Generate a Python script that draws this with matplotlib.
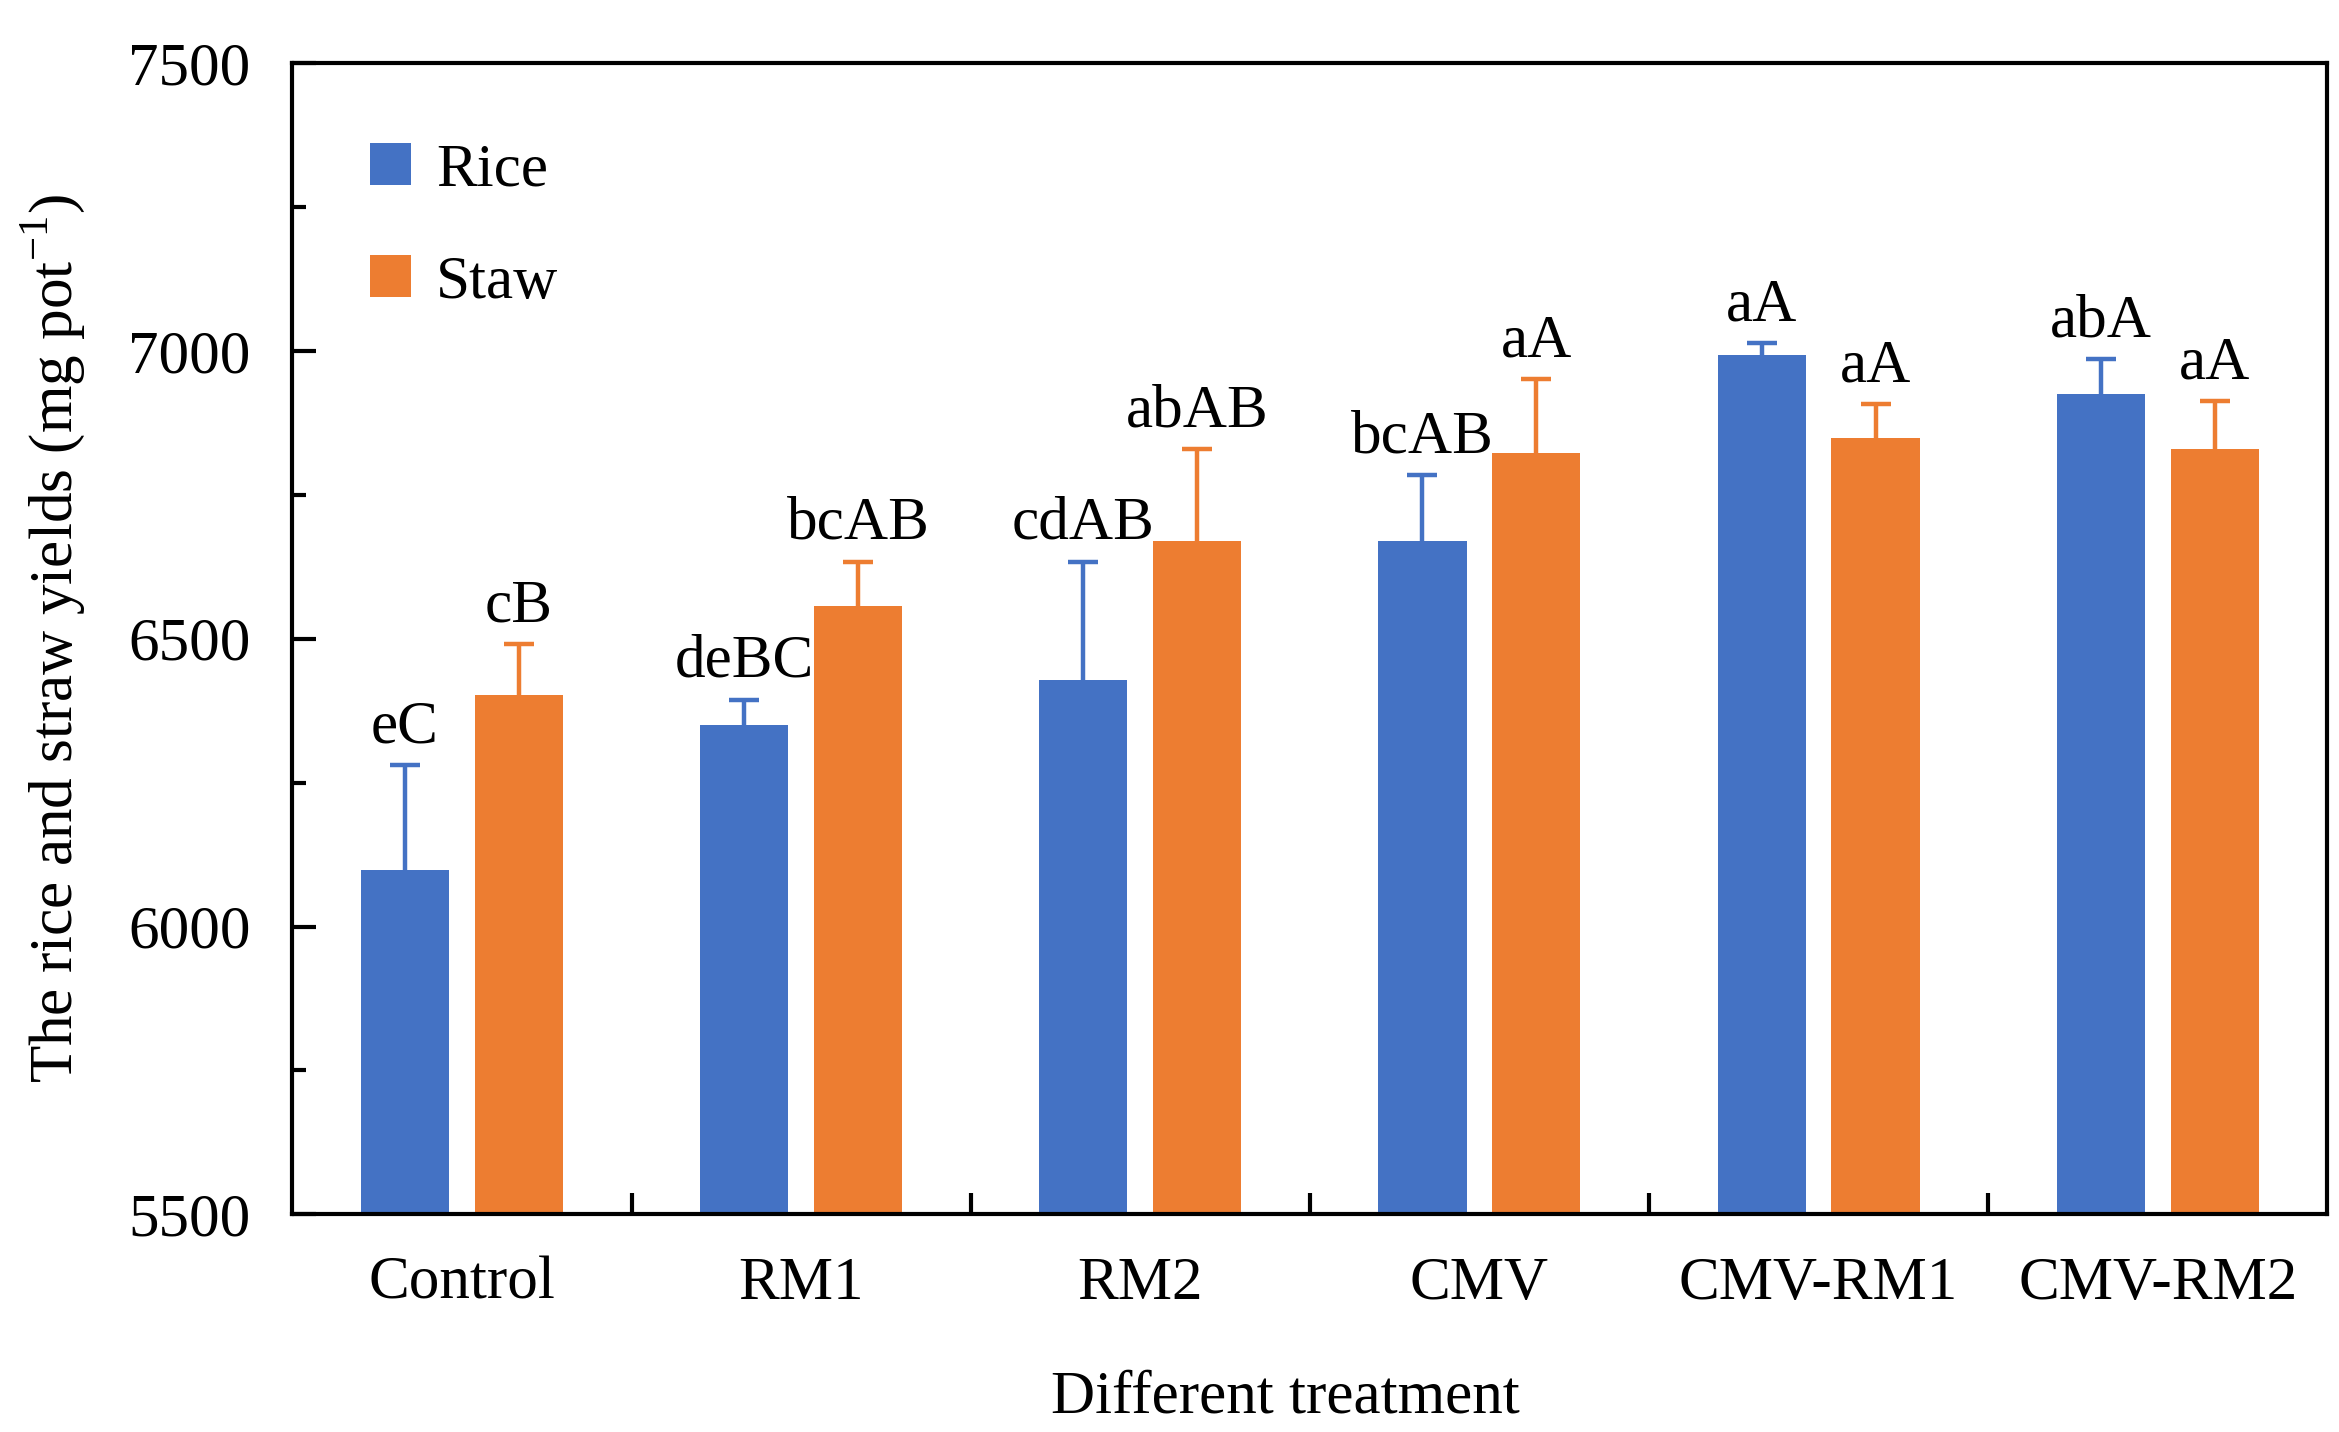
import numpy as np
import matplotlib
matplotlib.use("Agg")
import matplotlib.pyplot as plt
from matplotlib.ticker import MultipleLocator


treatments = ["Control", "RM1", "RM2", "CMV", "CMV-RM1", "CMV-RM2"]
rice_mean = [6098, 6350, 6428, 6670, 6992, 6925]
rice_err = [182, 44, 206, 114, 21, 60]
staw_mean = [6402, 6556, 6670, 6823, 6849, 6829]
staw_err = [89, 78, 159, 128, 58, 83]
rice_labels = ["eC", "deBC", "cdAB", "bcAB", "aA", "abA"]
staw_labels = ["cB", "bcAB", "abAB", "aA", "aA", "aA"]

rice_color = "#4472C4"
staw_color = "#ED7D31"

plt.rcParams["font.family"] = ["Liberation Serif", "DejaVu Serif"]
plt.rcParams["mathtext.fontset"] = "custom"
plt.rcParams["mathtext.rm"] = "Liberation Serif"

font_size = 44


def add_error_bars(axis, x, mean, err, color):
    # one-sided error bars, upper only
    line, caps, bars = axis.errorbar(x, mean, yerr=[np.zeros(len(x)), err], fmt="none",
                                     ecolor=color, elinewidth=3.2, capsize=11, capthick=3.2,
                                     zorder=1)
    caps[0].set_visible(False)


def main():
    figure = plt.figure(figsize=(23.39, 14.32), dpi=100)
    axis = figure.add_axes([0.125, 0.152, 0.870, 0.804])

    x = np.arange(len(treatments))
    offset = 0.168
    width = 0.26

    axis.bar(x - offset, rice_mean, width, color=rice_color, label="Rice", zorder=2)
    axis.bar(x + offset, staw_mean, width, color=staw_color, label="Staw", zorder=2)

    add_error_bars(axis, x - offset, rice_mean, rice_err, rice_color)
    add_error_bars(axis, x + offset, staw_mean, staw_err, staw_color)

    for i in range(len(x)):
        axis.annotate(rice_labels[i], (x[i] - offset, rice_mean[i] + rice_err[i]),
                      xytext=(0, 7), textcoords="offset points", ha="center", va="bottom",
                      fontsize=font_size)
        axis.annotate(staw_labels[i], (x[i] + offset, staw_mean[i] + staw_err[i]),
                      xytext=(0, 7), textcoords="offset points", ha="center", va="bottom",
                      fontsize=font_size)

    axis.set_xlim(-0.5, len(treatments) - 0.5)
    axis.set_ylim(5500, 7500)

    axis.yaxis.set_major_locator(MultipleLocator(500))
    axis.yaxis.set_minor_locator(MultipleLocator(250))
    axis.tick_params(axis="y", which="major", direction="in", length=17, width=3,
                     labelsize=font_size, pad=30)
    axis.tick_params(axis="y", which="minor", direction="in", length=10, width=3)

    axis.set_xticks(np.arange(0.5, len(treatments) - 0.5, 1))
    axis.set_xticklabels([])
    axis.set_xticks(x, minor=True)
    axis.set_xticklabels(treatments, minor=True)
    axis.tick_params(axis="x", which="major", direction="in", length=15, width=3)
    axis.tick_params(axis="x", which="minor", length=0, labelsize=font_size, pad=30)

    for spine in axis.spines.values():
        spine.set_linewidth(3)

    axis.set_xlabel("Different treatment", fontsize=font_size, labelpad=38)
    axis.xaxis.set_label_coords(0.488, -0.135)
    axis.set_ylabel(r"The rice and straw yields (mg pot$^{\mathregular{-1}}$)",
                    fontsize=font_size, labelpad=30)

    axis.legend(loc="upper left", bbox_to_anchor=(0.011, 0.978), frameon=False,
                fontsize=font_size, handlelength=0.68, handleheight=0.68, handletextpad=0.4,
                labelspacing=0.92)

    figure.savefig("out.png", dpi=100)


if __name__ == "__main__":
    main()
